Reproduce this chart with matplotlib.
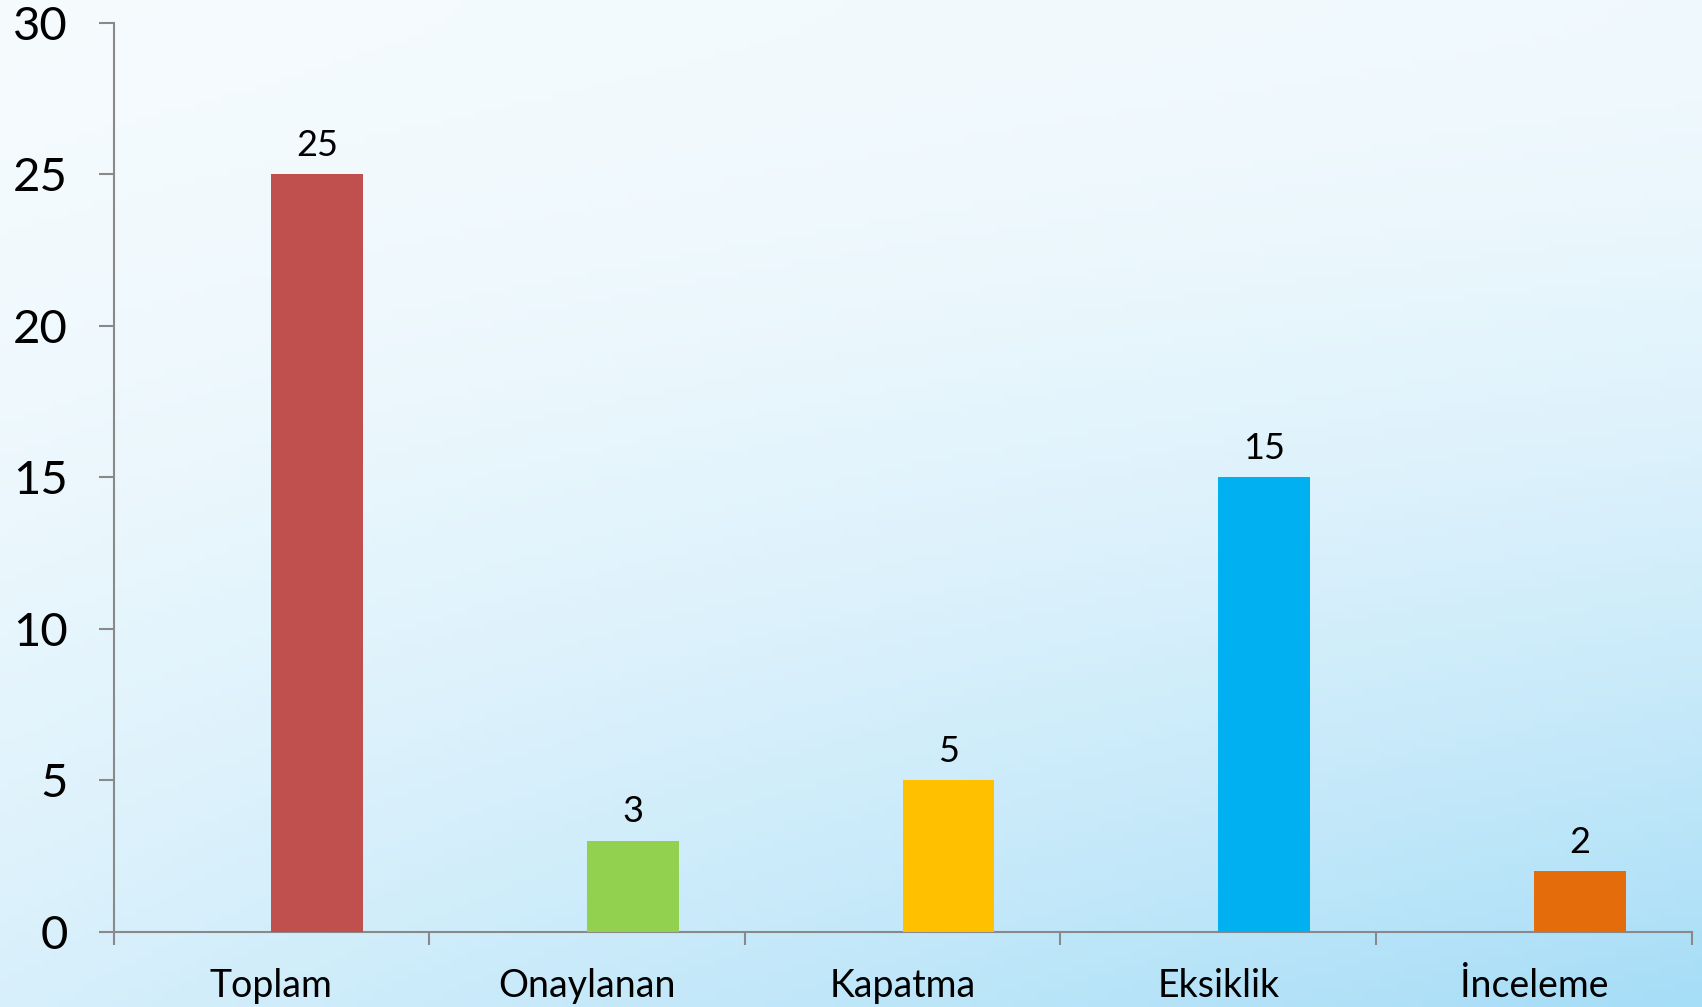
import numpy as np
import matplotlib
matplotlib.use('Agg')
import matplotlib.pyplot as plt

# Data
categories = ["Toplam", "Onaylanan", "Kapatma", "Eksiklik", "İnceleme"]
values = [25, 3, 5, 15, 2]
colors = ["#C0504D", "#92D050", "#FFC000", "#00B0F0", "#E46C0A"]
yticks = [0, 5, 10, 15, 20, 25, 30]

plt.rcParams['font.family'] = ['Lato', 'DejaVu Sans']

fig = plt.figure(figsize=(17.02, 10.07), dpi=100)

# Background gradient (white top-left -> light blue bottom-right)
bg = fig.add_axes([0, 0, 1, 1])
nx, ny = 200, 120
gx, gy = np.meshgrid(np.linspace(0, 1, nx), np.linspace(0, 1, ny))
gy2 = gy ** 1.6
t = 0.03 + 0.07 * gx + 0.37 * gy2 + 0.53 * gx * gy2
c0 = np.array([0xF8, 0xFC, 0xFE]) / 255
c1 = np.array([0xA6, 0xDD, 0xF7]) / 255
img = c0[None, None, :] * (1 - t[..., None]) + c1[None, None, :] * t[..., None]
bg.imshow(img, aspect='auto', extent=[0, 1, 0, 1], origin='upper')
bg.axis('off')

ax = fig.add_axes([0.0667, 0.0748, 0.9273, 0.9027])
ax.patch.set_alpha(0)

x = np.arange(len(categories))
bar_w = 0.29
ax.bar(x, values, width=bar_w, align='edge', color=colors, zorder=3)

for xi, v in zip(x, values):
    ax.annotate(str(v), (xi + bar_w / 2, v), xytext=(0, 9), textcoords='offset points',
                ha='center', va='bottom', fontsize=26)

ax.set_xlim(-0.5, len(categories) - 0.5)
ax.set_ylim(0, 30)
ax.set_yticks(yticks)
ax.set_yticklabels([str(v) for v in yticks], fontsize=34)
ax.set_xticks(x)
ax.set_xticklabels(categories, fontsize=27)
ax.set_xticks(np.arange(len(categories) + 1) - 0.5, minor=True)

for s in ['top', 'right']:
    ax.spines[s].set_visible(False)
for s in ['left', 'bottom']:
    ax.spines[s].set_color('#898989')
    ax.spines[s].set_linewidth(1.5)

ax.tick_params(axis='y', direction='out', length=11, width=1.5, color='#898989', pad=22)
ax.tick_params(axis='x', which='major', length=0, pad=26)
ax.tick_params(axis='x', which='minor', direction='out', length=9, width=1.5, color='#898989')

fig.savefig('out.png', dpi=100)
